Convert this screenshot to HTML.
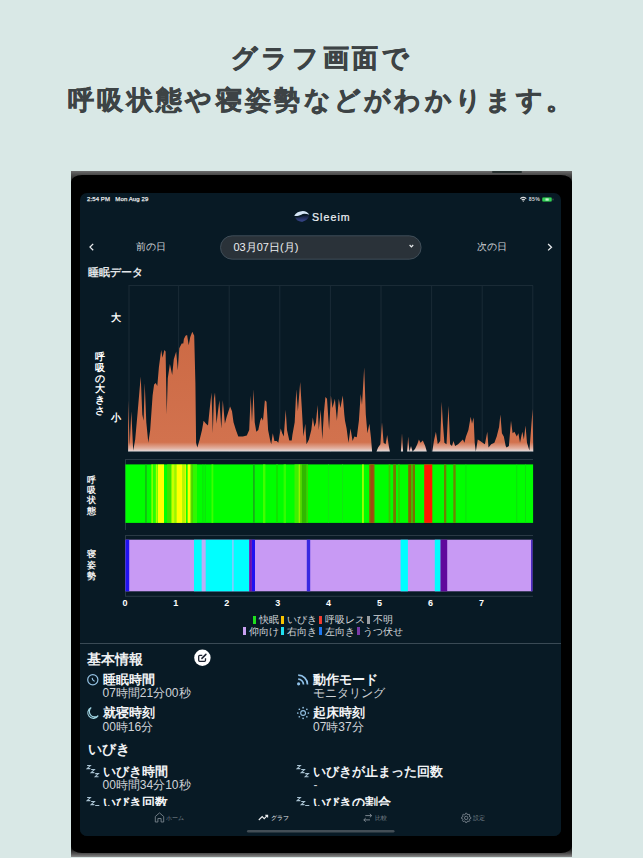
<!DOCTYPE html>
<html><head><meta charset="utf-8">
<style>
*{margin:0;padding:0;box-sizing:border-box}
html,body{width:643px;height:858px;overflow:hidden;background:#d9e8e6;font-family:"Liberation Sans",sans-serif}
.abs{position:absolute}
.title{position:absolute;left:0;width:643px;text-align:center;font-size:26px;letter-spacing:3.3px;text-indent:0.5px;font-weight:bold;color:#3d4345;line-height:30px;white-space:nowrap;-webkit-text-stroke:0.6px #3d4345}
#frame{position:absolute;left:70.5px;top:171px;width:501.5px;height:686px;background:linear-gradient(#6e6e6e 0,#505050 3px,#333 7px,#1a1a1a 12px,#000 16px,#000 672px,#222 679px,#555 683px,#8a8a8a 686px)}
#frame:before{content:"";position:absolute;left:0;right:0;top:4px;bottom:4px;background:#000;border-radius:11px 11px 11px 11px / 7px 7px 7px 7px}
#screen{position:absolute;left:80px;top:193px;width:481px;height:642.5px;background:#081a25;border-radius:7px;overflow:hidden}
.t{position:absolute;white-space:nowrap;line-height:1}
</style></head><body>
<div class="title" style="top:42.6px;letter-spacing:3.7px">グラフ画面で</div>
<div class="title" style="top:84.6px">呼吸状態や寝姿勢などがわかります。</div>
<div id="frame"></div>
<div class="abs" style="left:492px;top:171px;width:30px;height:2.4px;background:#27302f;border-radius:1px"></div>
<div id="screen"></div>
<svg class="abs" style="left:0;top:0" width="643" height="858" viewBox="0 0 643 858">
<defs><linearGradient id="og" gradientUnits="userSpaceOnUse" x1="0" y1="330" x2="0" y2="452">
<stop offset="0" stop-color="#cc6a45"/><stop offset="0.92" stop-color="#d2724e"/><stop offset="0.97" stop-color="#e2b0a0"/><stop offset="1" stop-color="#e2e6ea"/></linearGradient></defs>
<g stroke="#1a2b36" stroke-width="1"><line x1="129" y1="285.5" x2="129" y2="452" /><line x1="178.6" y1="285.5" x2="178.6" y2="452" /><line x1="229.2" y1="285.5" x2="229.2" y2="452" /><line x1="279.8" y1="285.5" x2="279.8" y2="452" /><line x1="330.4" y1="285.5" x2="330.4" y2="452" /><line x1="381" y1="285.5" x2="381" y2="452" /><line x1="431.6" y1="285.5" x2="431.6" y2="452" /><line x1="482.2" y1="285.5" x2="482.2" y2="452" /><line x1="532.8" y1="285.5" x2="532.8" y2="452" /><line x1="128.5" y1="285.5" x2="533" y2="285.5"/></g>
<path d="M128.1,451.5 L128.1,400.2 L129.7,445.9 L131.3,411.3 L133.2,450.6 L135.2,439.6 L137.6,412.8 L140.7,376.6 L142.3,414.4 L143.6,420.7 L144.7,383.0 L146.3,422.3 L148.3,442.7 L150.2,430.1 L152.6,395.5 L154.1,384.5 L155.7,382.9 L157.3,386.1 L158.9,367.2 L161.2,349.9 L162.5,357.8 L164.4,349.9 L165.6,351.5 L166.7,414.4 L167.8,378.2 L169.9,364.1 L172.2,375.1 L173.8,359.3 L176.2,351.5 L177.8,370.3 L179.3,348.3 L181.7,343.6 L183.3,343.6 L183.9,338.9 L185.5,335.7 L187.1,334.9 L188.7,345.2 L190.2,337.3 L192.3,331.8 L194.2,335.7 L195.4,383.0 L196.1,442.7 L197.3,447.4 L199.7,439.6 L202.0,430.1 L203.6,420.7 L206.0,423.8 L208.0,425.4 L209.6,409.7 L211.5,392.4 L212.8,433.3 L213.9,398.7 L215.0,392.4 L216.5,423.8 L217.8,412.8 L219.4,400.2 L221.3,428.6 L222.8,400.2 L224.9,423.8 L226.5,417.5 L228.0,412.8 L230.1,406.5 L232.0,411.3 L233.5,422.3 L235.9,430.1 L238.3,436.4 L242.9,436.4 L246.8,435.6 L249.2,430.1 L250.7,395.5 L252.0,422.3 L253.6,389.2 L254.7,422.3 L256.3,431.7 L258.3,430.1 L260.2,420.7 L261.5,417.5 L263.0,420.7 L264.9,400.2 L266.5,401.8 L268.1,430.1 L270.0,439.6 L271.2,444.3 L272.8,433.3 L274.4,441.1 L276.7,441.1 L278.3,442.7 L280.7,428.6 L282.2,433.3 L283.8,436.4 L285.7,409.7 L287.0,430.1 L289.3,440.4 L291.7,440.4 L292.4,434.9 L294.7,422.3 L296.3,389.2 L297.9,411.3 L300.2,382.1 L301.8,408.1 L303.4,436.4 L305.3,423.8 L306.5,444.3 L308.9,439.6 L311.3,430.1 L312.8,417.5 L314.4,427.0 L316.0,422.3 L317.6,405.0 L318.8,430.1 L320.7,409.7 L322.3,439.6 L323.9,412.8 L325.4,397.1 L327.0,398.7 L329.1,430.1 L330.9,395.5 L332.5,408.1 L334.9,398.7 L336.9,420.7 L338.8,398.7 L340.4,408.1 L342.8,395.5 L344.3,414.4 L345.0,420.7 L346.6,428.6 L348.5,442.7 L350.5,428.6 L352.6,441.1 L354.4,436.4 L356.8,437.2 L358.9,420.7 L360.7,393.9 L362.0,405.0 L364.2,367.2 L365.8,414.4 L367.4,433.3 L369.4,423.8 L371.0,438.0 L372.1,451.5 L376.5,451.5 L378.1,447.4 L380.4,444.3 L382.0,422.3 L383.6,442.7 L385.6,444.3 L387.2,434.9 L388.8,445.9 L389.9,451.5 L400.9,451.5 L402.0,433.3 L403.1,451.5 L407.1,451.5 L408.2,436.4 L409.4,451.5 L411.0,445.9 L412.6,451.5 L415.0,449.0 L417.3,444.3 L418.9,439.6 L420.5,442.7 L422.8,440.4 L425.2,445.9 L426.8,451.5 L432.3,451.5 L433.9,441.1 L435.9,431.7 L437.8,444.3 L440.2,441.1 L441.7,401.8 L442.8,422.3 L444.4,442.7 L446.5,444.3 L448.5,405.7 L450.1,444.3 L452.0,445.9 L453.5,441.1 L455.1,445.9 L458.1,444.3 L461.3,441.1 L462.9,439.6 L464.4,442.7 L466.0,436.4 L468.4,430.1 L470.7,416.8 L472.0,423.8 L473.6,417.5 L474.7,442.7 L475.8,451.5 L477.8,439.6 L480.2,441.1 L482.6,442.7 L484.9,444.3 L487.3,431.7 L488.5,447.4 L491.2,444.3 L494.4,442.7 L496.7,436.4 L499.1,427.0 L500.4,414.4 L501.9,433.3 L503.8,436.4 L505.7,445.9 L506.6,447.4 L508.9,445.9 L511.0,420.7 L512.6,433.3 L514.4,431.7 L516.8,436.4 L518.4,433.3 L520.0,442.7 L522.3,431.7 L523.9,439.6 L525.5,425.4 L527.0,442.7 L529.4,450.6 L531.0,430.1 L532.6,408.9 L533.3,451.5 Z" fill="url(#og)"/>
<g stroke="#2a3a45" stroke-width="1" fill="none"><line x1="125" y1="459.5" x2="533" y2="459.5"/><line x1="125" y1="535.5" x2="533" y2="535.5"/><line x1="125.5" y1="459.5" x2="125.5" y2="530"/><line x1="125.5" y1="535.5" x2="125.5" y2="596"/><line x1="125" y1="596.3" x2="533" y2="596.3"/></g>
<rect x="125.4" y="464.4" width="407.7" height="58.5" fill="#00ff00"/>
<rect x="145.3" y="464.4" width="1.3" height="58.5" fill="#1aa81a"/><rect x="151.3" y="464.4" width="1.8" height="58.5" fill="#80ff00"/><rect x="153.1" y="464.4" width="2.7" height="58.5" fill="#28ff00"/><rect x="155.8" y="464.4" width="1.7" height="58.5" fill="#a8ff00"/><rect x="157.8" y="464.4" width="6.2" height="58.5" fill="#ffff00"/><rect x="167.1" y="464.4" width="4.3" height="58.5" fill="#3ce200"/><rect x="171.4" y="464.4" width="3.4" height="58.5" fill="#c8ff00"/><rect x="174.8" y="464.4" width="1.7" height="58.5" fill="#a0f000"/><rect x="176.4" y="464.4" width="6.3" height="58.5" fill="#ffff00"/><rect x="182.7" y="464.4" width="1.5" height="58.5" fill="#c0f000"/><rect x="184.2" y="464.4" width="1.9" height="58.5" fill="#e0f800"/><rect x="187.6" y="464.4" width="2.8" height="58.5" fill="#ffff00"/><rect x="190.4" y="464.4" width="1.0" height="58.5" fill="#c0f000"/><rect x="191.4" y="464.4" width="1.4" height="58.5" fill="#60c000"/><rect x="192.8" y="464.4" width="4.2" height="58.5" fill="#30f800"/><rect x="211.5" y="464.4" width="1.8" height="58.5" fill="#3cff00"/><rect x="202.5" y="464.4" width="0.8" height="58.5" fill="#10d810"/><rect x="204.8" y="464.4" width="0.8" height="58.5" fill="#10d810"/><rect x="253.1" y="464.4" width="1.6" height="58.5" fill="#1aa81a"/><rect x="263.0" y="464.4" width="2.4" height="58.5" fill="#40ff00"/><rect x="276.0" y="464.4" width="2.0" height="58.5" fill="#10e400"/><rect x="283.6" y="464.4" width="2.4" height="58.5" fill="#30ff00"/><rect x="294.5" y="464.4" width="4.0" height="58.5" fill="#40f000"/><rect x="298.5" y="464.4" width="1.5" height="58.5" fill="#98f000"/><rect x="300.0" y="464.4" width="1.9" height="58.5" fill="#58d800"/><rect x="301.9" y="464.4" width="4.6" height="58.5" fill="#30b800"/><rect x="306.5" y="464.4" width="1.5" height="58.5" fill="#40d000"/><rect x="328.0" y="464.4" width="1.0" height="58.5" fill="#10e810"/><rect x="342.0" y="464.4" width="1.0" height="58.5" fill="#10e810"/><rect x="362.0" y="464.4" width="1.9" height="58.5" fill="#98ff00"/><rect x="369.0" y="464.4" width="5.6" height="58.5" fill="#7a8000"/><rect x="370.4" y="464.4" width="3.3" height="58.5" fill="#a04a10"/><rect x="388.6" y="464.4" width="1.8" height="58.5" fill="#40c000"/><rect x="393.2" y="464.4" width="2.8" height="58.5" fill="#787800"/><rect x="398.0" y="464.4" width="1.8" height="58.5" fill="#30d000"/><rect x="408.2" y="464.4" width="2.8" height="58.5" fill="#8a6000"/><rect x="411.0" y="464.4" width="1.8" height="58.5" fill="#50b000"/><rect x="412.8" y="464.4" width="2.2" height="58.5" fill="#7a7000"/><rect x="424.2" y="464.4" width="8.1" height="58.5" fill="#ff1a00"/><rect x="444.0" y="464.4" width="2.3" height="58.5" fill="#708000"/><rect x="453.3" y="464.4" width="2.4" height="58.5" fill="#6a8800"/><rect x="465.5" y="464.4" width="0.8" height="58.5" fill="#10d810"/><rect x="516.4" y="464.4" width="0.8" height="58.5" fill="#10d810"/><rect x="525.1" y="464.4" width="0.8" height="58.5" fill="#10d810"/>
<rect x="125.5" y="539.7" width="406.9" height="51.6" fill="#c89af4"/>
<rect x="125.5" y="539.7" width="3.7" height="51.59999999999991" fill="#2012f0"/><rect x="194.0" y="539.7" width="7.8" height="51.59999999999991" fill="#00ffff"/><rect x="201.8" y="539.7" width="3.9" height="51.59999999999991" fill="#b8b0f6"/><rect x="205.7" y="539.7" width="26.4" height="51.59999999999991" fill="#00ffff"/><rect x="232.1" y="539.7" width="1.6" height="51.59999999999991" fill="#70d8ff"/><rect x="233.7" y="539.7" width="15.5" height="51.59999999999991" fill="#00ffff"/><rect x="249.2" y="539.7" width="2.7" height="51.59999999999991" fill="#6a10a8"/><rect x="251.9" y="539.7" width="3.1" height="51.59999999999991" fill="#2012f0"/><rect x="306.8" y="539.7" width="3.4" height="51.59999999999991" fill="#3a28e0"/><rect x="400.6" y="539.7" width="7.3" height="51.59999999999991" fill="#00ffff"/><rect x="434.8" y="539.7" width="5.7" height="51.59999999999991" fill="#00ffff"/><rect x="440.5" y="539.7" width="6.7" height="51.59999999999991" fill="#60089c"/><rect x="531.2" y="539.7" width="1.2" height="51.59999999999991" fill="#3010b8"/>
</svg>

<svg class="abs" style="left:0;top:0" width="643" height="858" viewBox="0 0 643 858">
<!-- wifi -->
<g fill="#d8dadc"><path d="M519.9,198.2 A5.2,5.2 0 0 1 526.7,198.2 L525.8,199.1 A3.9,3.9 0 0 0 520.8,199.1Z"/><path d="M521.3,199.6 A3.1,3.1 0 0 1 525.3,199.6 L524.4,200.5 A1.8,1.8 0 0 0 522.2,200.5Z"/><circle cx="523.3" cy="201.1" r="0.7"/></g>
<!-- battery -->
<rect x="542" y="197.3" width="10" height="4.4" rx="1.2" fill="#1f8a3a"/>
<rect x="542.6" y="197.8" width="8.8" height="3.4" rx="0.9" fill="#34d25a"/>
<rect x="545.5" y="198.4" width="3.2" height="2.2" fill="#c8f0d0"/>
<rect x="552.6" y="198.6" width="0.8" height="1.8" fill="#5a6a66"/>
<!-- logo icon -->
<defs><linearGradient id="lg1" x1="0" y1="0" x2="0" y2="1"><stop offset="0" stop-color="#0e1c33"/><stop offset="1" stop-color="#3a4890"/></linearGradient></defs>
<path d="M295.1,217.3 C297,217.6 299,217.5 300.5,217 C303,216.1 305.5,215 309.1,215.5 C308.5,218.5 306,221 302.3,221.7 C298.5,221.8 296,220 295.1,217.3Z" fill="url(#lg1)"/>
<path d="M294.2,215.7 C296,213 299,211.3 302.9,211.1 C305.5,211.1 308,212.6 309.4,214.7 C307.5,214 305.8,213.6 304.2,213.7 C302,214 300.5,215.2 298.5,215.7 C297,216 295.5,216 294.2,215.7Z" fill="#d4e6f6"/>
<!-- pill -->
<rect x="220.5" y="235.8" width="200.6" height="23.4" rx="11.7" fill="#2a3239" stroke="#43515c" stroke-width="0.9"/>
<!-- chevrons -->
<path d="M93.2,243.9 L90,247.1 L93.2,250.3" fill="none" stroke="#e8eaec" stroke-width="1.3"/>
<path d="M548.1,244 L551.5,247.2 L548.1,250.4" fill="none" stroke="#e8eaec" stroke-width="1.3"/>
<path d="M409.6,245 L411.4,246.9 L413.2,245" fill="none" stroke="#e8eaec" stroke-width="1.2"/>
<!-- separator -->
<line x1="80" y1="643.5" x2="561" y2="643.5" stroke="#3a4a55" stroke-width="1"/>
<!-- edit icon -->
<circle cx="202.4" cy="657.7" r="8.2" fill="#fff"/>
<path d="M202.3,655.3 H199.7 Q198.7,655.3 198.7,656.3 V660.3 Q198.7,661.3 199.7,661.3 H204.5 Q205.5,661.3 205.5,660.3 V658.2" fill="none" stroke="#1c2230" stroke-width="1.3"/>
<path d="M201.9,658.4 L205.9,654.4" fill="none" stroke="#1c2230" stroke-width="1.5" stroke-linecap="round"/>
<!-- clock -->
<circle cx="92.8" cy="679.8" r="5.1" fill="none" stroke="#94c2e4" stroke-width="1.2"/>
<path d="M92.2,677.8 L92.6,679.6 L94.6,681.4" fill="none" stroke="#94c2e4" stroke-width="1.1"/>
<!-- moon -->
<path d="M91.2,707.6 A5.6,5.6 0 1 0 98.2,715.6 A4.6,4.6 0 0 1 91.2,707.6Z" fill="none" stroke="#a0d4e2" stroke-width="1.1"/>
<!-- rss -->
<circle cx="298.6" cy="683.8" r="1.6" fill="#90c2ea"/>
<path d="M298.2,679.2 A5.3,5.3 0 0 1 303.5,684.5 M298.2,675.2 A9.3,9.3 0 0 1 307.5,684.5" fill="none" stroke="#90c2ea" stroke-width="1.7"/>
<!-- sun -->
<g fill="#94c2e4"><circle cx="303.1" cy="713" r="2.4" fill="none" stroke="#94c2e4" stroke-width="1.1"/><circle cx="308.40" cy="713.00" r="0.85"/><circle cx="306.85" cy="716.75" r="0.85"/><circle cx="303.10" cy="718.30" r="0.85"/><circle cx="299.35" cy="716.75" r="0.85"/><circle cx="297.80" cy="713.00" r="0.85"/><circle cx="299.35" cy="709.25" r="0.85"/><circle cx="303.10" cy="707.70" r="0.85"/><circle cx="306.85" cy="709.25" r="0.85"/></g>
<!-- zzz -->
<path d="M87.1,765.5 h3.3 l-3.3,3.1 h3.3 M91.1,769.5 h3.3 l-3.3,3.1 h3.3 M95.2,773.6 h3.3 l-3.3,3.1 h3.3 M297.1,765.5 h3.3 l-3.3,3.1 h3.3 M301.2,769.5 h3.3 l-3.3,3.1 h3.3 M305.2,773.6 h3.3 l-3.3,3.1 h3.3 M87.1,797.5 h3.3 l-3.3,3.1 h3.3 M91.1,801.5 h3.3 l-3.3,3.1 h3.3 M95.2,805.6 h3.3 l-3.3,3.1 h3.3 M297.1,797.5 h3.3 l-3.3,3.1 h3.3 M301.2,801.5 h3.3 l-3.3,3.1 h3.3 M305.2,805.6 h3.3 l-3.3,3.1 h3.3 " fill="none" stroke="#a8c2d2" stroke-width="1.05"/>
</svg>
<div class="t" style="left:87px;top:195.5px;font-size:6px;font-weight:normal;color:#e6e8ea;-webkit-text-stroke:0.25px #e6e8ea;letter-spacing:0.1px">2:54 PM&nbsp;&nbsp; Mon Aug 29</div><div class="t" style="left:528.8px;top:196.6px;font-size:5.2px;font-weight:bold;color:#d0d4d6;letter-spacing:0.3px">85%</div><div class="t" style="left:312px;top:211.8px;font-size:10.6px;font-weight:normal;color:#eef2f6;letter-spacing:1.05px;-webkit-text-stroke:0.2px #eef2f6">Sleeim</div><div class="t" style="left:135.5px;top:242px;font-size:10px;font-weight:normal;color:#d0d4d8;">前の日</div><div class="t" style="left:477px;top:242.3px;font-size:10px;font-weight:normal;color:#d0d4d8;">次の日</div><div class="t" style="left:233.5px;top:241.7px;font-size:11px;font-weight:normal;color:#eceef0;">03月07日(月)</div><div class="t" style="left:88px;top:266.7px;font-size:10.5px;font-weight:bold;color:#e4e7ea;">睡眠データ</div><div class="t" style="left:110.5px;top:312.5px;font-size:10px;font-weight:bold;color:#fff;">大</div><div class="t" style="left:110.5px;top:412.7px;font-size:10px;font-weight:bold;color:#fff;">小</div><div class="t" style="left:95px;top:352.3px;font-size:9.5px;font-weight:bold;color:#fff;line-height:10.7px">呼<br>吸<br>の<br>大<br>き<br>さ</div><div class="t" style="left:87px;top:474.5px;font-size:9px;font-weight:bold;color:#f0f0f0;line-height:10.4px">呼<br>吸<br>状<br>態</div><div class="t" style="left:87px;top:549.2px;font-size:9px;font-weight:bold;color:#f0f0f0;line-height:11px">寝<br>姿<br>勢</div><div class="t" style="left:122.4px;top:599px;font-size:9px;font-weight:bold;color:#fff;">0</div><div class="t" style="left:173.33px;top:599px;font-size:9px;font-weight:bold;color:#fff;">1</div><div class="t" style="left:224.26000000000002px;top:599px;font-size:9px;font-weight:bold;color:#fff;">2</div><div class="t" style="left:275.18999999999994px;top:599px;font-size:9px;font-weight:bold;color:#fff;">3</div><div class="t" style="left:326.12px;top:599px;font-size:9px;font-weight:bold;color:#fff;">4</div><div class="t" style="left:377.04999999999995px;top:599px;font-size:9px;font-weight:bold;color:#fff;">5</div><div class="t" style="left:427.97999999999996px;top:599px;font-size:9px;font-weight:bold;color:#fff;">6</div><div class="t" style="left:478.90999999999997px;top:599px;font-size:9px;font-weight:bold;color:#fff;">7</div><div class="t" style="left:0;width:643px;text-align:center;top:615px;font-size:9.5px;color:#d2d6da"><span style="display:inline-block;width:3.5px;height:8px;background:#1ee01e;margin:0 2.5px 0 2px;vertical-align:-0.5px"></span>快眠<span style="display:inline-block;width:3.5px;height:8px;background:#f8c400;margin:0 2.5px 0 2px;vertical-align:-0.5px"></span>いびき<span style="display:inline-block;width:3.5px;height:8px;background:#f03c30;margin:0 2.5px 0 2px;vertical-align:-0.5px"></span>呼吸レス<span style="display:inline-block;width:3.5px;height:8px;background:#9a9ea2;margin:0 2.5px 0 2px;vertical-align:-0.5px"></span>不明</div><div class="t" style="left:0;width:643px;text-align:center;top:626.5px;font-size:9.5px;color:#d2d6da"><span style="display:inline-block;width:3.5px;height:8px;background:#c8a0f0;margin:0 2.5px 0 2px;vertical-align:-0.5px"></span>仰向け<span style="display:inline-block;width:3.5px;height:8px;background:#20e0f0;margin:0 2.5px 0 2px;vertical-align:-0.5px"></span>右向き<span style="display:inline-block;width:3.5px;height:8px;background:#1e78f0;margin:0 2.5px 0 2px;vertical-align:-0.5px"></span>左向き<span style="display:inline-block;width:3.5px;height:8px;background:#7a3aa8;margin:0 2.5px 0 2px;vertical-align:-0.5px"></span>うつ伏せ</div><div class="t" style="left:87px;top:652.7px;font-size:13.5px;font-weight:bold;color:#eef0f2;">基本情報</div><div class="t" style="left:102.5px;top:673.5px;font-size:12.5px;font-weight:bold;color:#f2f4f6;">睡眠時間</div><div class="t" style="left:102.5px;top:686.5px;font-size:12px;font-weight:normal;color:#d0d4d8;">07時間21分00秒</div><div class="t" style="left:102.5px;top:707.3px;font-size:12.5px;font-weight:bold;color:#f2f4f6;">就寝時刻</div><div class="t" style="left:102.5px;top:720.5px;font-size:12px;font-weight:normal;color:#d0d4d8;">00時16分</div><div class="t" style="left:313px;top:673.5px;font-size:12.5px;font-weight:bold;color:#f2f4f6;">動作モード</div><div class="t" style="left:313px;top:686.5px;font-size:12px;font-weight:normal;color:#d0d4d8;">モニタリング</div><div class="t" style="left:313px;top:707.3px;font-size:12.5px;font-weight:bold;color:#f2f4f6;">起床時刻</div><div class="t" style="left:313px;top:720.5px;font-size:12px;font-weight:normal;color:#d0d4d8;">07時37分</div><div class="t" style="left:87.5px;top:743px;font-size:13.5px;font-weight:bold;color:#eef0f2;">いびき</div><div class="t" style="left:102.5px;top:765.5px;font-size:12.5px;font-weight:bold;color:#f2f4f6;">いびき時間</div><div class="t" style="left:102.5px;top:778.5px;font-size:12px;font-weight:normal;color:#d0d4d8;">00時間34分10秒</div><div class="t" style="left:313px;top:765.5px;font-size:12.5px;font-weight:bold;color:#f2f4f6;">いびきが止まった回数</div><div class="t" style="left:313.5px;top:778.5px;font-size:12px;font-weight:normal;color:#d0d4d8;">-</div><div class="t" style="left:102.5px;top:797px;font-size:12.5px;font-weight:bold;color:#f2f4f6;">いびき回数</div><div class="t" style="left:313px;top:797px;font-size:12.5px;font-weight:bold;color:#f2f4f6;">いびきの割合</div><div class="t" style="left:166.3px;top:815.8px;font-size:5.5px;font-weight:normal;color:#78838c;">ホーム</div><div class="t" style="left:271.3px;top:815.6px;font-size:5.5px;font-weight:normal;color:#e8eaec;">グラフ</div><div class="t" style="left:375.2px;top:815.9px;font-size:5.5px;font-weight:normal;color:#78838c;">比較</div><div class="t" style="left:473.3px;top:815.9px;font-size:5.5px;font-weight:normal;color:#78838c;">設定</div>
<div class="abs" style="left:80px;top:805.5px;width:481px;height:30px;background:#081a25;border-radius:0 0 7px 7px"></div>

<svg class="abs" style="left:0;top:0" width="643" height="858" viewBox="0 0 643 858">
<path d="M155.3,822 v-5.5 l4.2,-3.6 l4.2,3.6 v5.5 h-2.6 v-3.5 h-3.2 v3.5 z" fill="none" stroke="#78838c" stroke-width="0.9"/>
<path d="M258.8,820 l3.4,-3.4 l2,2 l3.4,-3.4 M265.2,815.2 h2.4 v2.4" fill="none" stroke="#eef0f2" stroke-width="1.1"/>
<path d="M365.3,815.6 h6.4 M369.8,813.8 l1.9,1.8 l-1.9,1.8 M370,819.9 h-6.2 M365.7,818.1 l-1.9,1.8 l1.9,1.8" fill="none" stroke="#7a858e" stroke-width="1"/>
<path d="M469.80,817.04 L470.86,817.31 L470.86,818.49 L469.80,818.76 L469.35,819.83 L469.91,820.78 L469.08,821.61 L468.13,821.05 L467.06,821.50 L466.79,822.56 L465.61,822.56 L465.34,821.50 L464.27,821.05 L463.32,821.61 L462.49,820.78 L463.05,819.83 L462.60,818.76 L461.54,818.49 L461.54,817.31 L462.60,817.04 L463.05,815.97 L462.49,815.02 L463.32,814.19 L464.27,814.75 L465.34,814.30 L465.61,813.24 L466.79,813.24 L467.06,814.30 L468.13,814.75 L469.08,814.19 L469.91,815.02 L469.35,815.97Z" fill="none" stroke="#7a858e" stroke-width="0.9" stroke-linejoin="round"/><circle cx="466.2" cy="817.9" r="1.7" fill="none" stroke="#7a858e" stroke-width="0.9"/>
<rect x="247" y="830" width="147.5" height="2.5" rx="1.25" fill="#434e56"/>
</svg>
<div class="t" style="left:166.3px;top:815.8px;font-size:5.5px;font-weight:normal;color:#78838c;">ホーム</div><div class="t" style="left:271.3px;top:815.6px;font-size:5.5px;font-weight:normal;color:#e8eaec;">グラフ</div><div class="t" style="left:375.2px;top:815.9px;font-size:5.5px;font-weight:normal;color:#78838c;">比較</div><div class="t" style="left:473.3px;top:815.9px;font-size:5.5px;font-weight:normal;color:#78838c;">設定</div>
</body></html>
